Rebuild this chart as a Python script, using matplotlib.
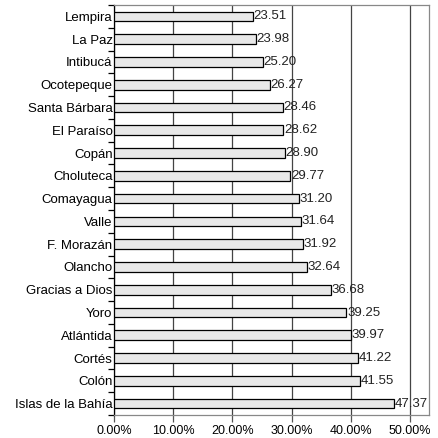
import matplotlib
matplotlib.use("Agg")
import matplotlib.pyplot as plt
from matplotlib.ticker import FuncFormatter

categories = ["Lempira", "La Paz", "Intibucá", "Ocotepeque", "Santa Bárbara", "El Paraíso",
              "Copán", "Choluteca", "Comayagua", "Valle", "F. Morazán", "Olancho",
              "Gracias a Dios", "Yoro", "Atlántida", "Cortés", "Colón", "Islas de la Bahía"]
values = [23.51, 23.98, 25.20, 26.27, 28.46, 28.62, 28.90, 29.77, 31.20, 31.64, 31.92,
          32.64, 36.68, 39.25, 39.97, 41.22, 41.55, 47.37]
xticks = [0, 10, 20, 30, 40, 50]

plt.rcParams['font.family'] = ['Liberation Sans', 'DejaVu Sans']
FS = 9.5

fig = plt.figure(figsize=(4.38, 4.38), dpi=100)
ax = fig.add_axes([114/438, 23/438, (429-114)/438, (415-5)/438])

n = len(categories)
ypos = list(range(n))
ax.barh(ypos, values, height=0.42, color="#e8e8e8", edgecolor="black", linewidth=0.9, zorder=3)
for y, v in zip(ypos, values):
    ax.text(v + 0.1, y, f"{v:.2f}", va="center", ha="left", fontsize=FS, color="#222222", zorder=4)

ax.set_ylim(n - 0.5, -0.5)
ax.set_xlim(0, 53.2)
ax.set_yticks(ypos)
ax.set_yticklabels(categories, fontsize=FS)
ax.tick_params(axis="y", length=0, pad=1)
ax.set_yticks([i - 0.5 for i in range(n + 1)], minor=True)
ax.tick_params(axis="y", which="minor", length=4, width=0.9, color="black")

ax.set_xticks(xticks)
ax.xaxis.set_major_formatter(FuncFormatter(lambda x, p: f"{x:.2f}%"))
ax.tick_params(axis="x", length=5, width=0.9, color="#555555", labelsize=FS - 0.5, pad=2)
ax.grid(axis="x", color="#444444", linewidth=0.9, zorder=1)

ax.spines["left"].set_color("black")
ax.spines["left"].set_linewidth(0.9)
for s in ["top", "right", "bottom"]:
    ax.spines[s].set_color("#888888")
    ax.spines[s].set_linewidth(0.9)

fig.savefig("out.png", dpi=100)
